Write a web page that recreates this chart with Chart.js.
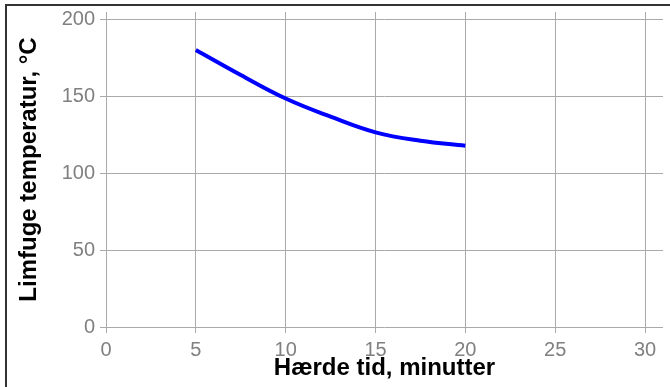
<!DOCTYPE html>
<html>
<head>
<meta charset="utf-8">
<script src="https://cdn.jsdelivr.net/npm/chart.js@4/dist/chart.umd.min.js"></script>
<style>
  html, body { margin: 0; padding: 0; background: #fff; }
  #wrap { position: relative; width: 670px; height: 387px; }
  #frame { position: absolute; left: 5px; top: 4px; width: 700px; height: 400px;
           border-top: 2px solid #333; border-left: 2px solid #333; pointer-events: none; }
</style>
</head>
<body>
<div id="wrap">
  <canvas id="c" width="670" height="387"></canvas>
  <div id="frame"></div>
</div>
<script>
// Glue-line temperature vs. curing time
const timeMinutes = [5, 7.5, 10, 12.5, 15, 17.5, 20];
const glueLineTemp = [180.3, 164, 148.7, 136.9, 126.7, 121.2, 118];
const xTickValues = [0, 5, 10, 15, 20, 25, 30];
const yTickValues = [0, 50, 100, 150, 200];

const points = timeMinutes.map((t, i) => ({ x: t, y: glueLineTemp[i] }));
const family = "'Liberation Sans', Arial, sans-serif";

new Chart(document.getElementById('c'), {
  type: 'line',
  data: {
    datasets: [{
      data: points,
      borderColor: '#0000ff',
      borderWidth: 4,
      pointRadius: 0,
      tension: 0.4,
      fill: false
    }]
  },
  options: {
    responsive: false,
    animation: false,
    layout: { padding: { left: 0, top: 12, right: 7, bottom: 0 } },
    plugins: { legend: { display: false }, tooltip: { enabled: false } },
    scales: {
      x: {
        type: 'linear',
        min: 0,
        max: 31,
        afterFit: s => { s.height = 60; s.paddingLeft = 0; s.paddingRight = 0; },
        afterBuildTicks: s => { s.ticks = xTickValues.map(v => ({ value: v })); },
        grid: { color: '#aaaaaa', lineWidth: 1, tickLength: 6, drawTicks: true },
        border: { display: false },
        ticks: { color: '#808080', font: { family, size: 20 }, padding: 5 },
        title: {
          display: true,
          text: 'Hærde tid, minutter',
          color: '#000',
          font: { family, size: 24, weight: 'bold' },
          padding: { top: 0, bottom: 4 }
        }
      },
      y: {
        type: 'linear',
        min: 0,
        max: 205,
        afterFit: s => { s.width = 106; s.paddingTop = 0; s.paddingBottom = 0; },
        afterBuildTicks: s => { s.ticks = yTickValues.map(v => ({ value: v })); },
        grid: { color: '#aaaaaa', lineWidth: 1, tickLength: 6, drawTicks: true },
        border: { display: false },
        ticks: { color: '#808080', font: { family, size: 20 }, padding: 5 },
        title: {
          display: true,
          text: 'Limfuge temperatur, °C',
          color: '#000',
          font: { family, size: 24, weight: 'bold' },
          padding: { top: 15, bottom: 0 }
        }
      }
    }
  }
});
</script>
</body>
</html>
